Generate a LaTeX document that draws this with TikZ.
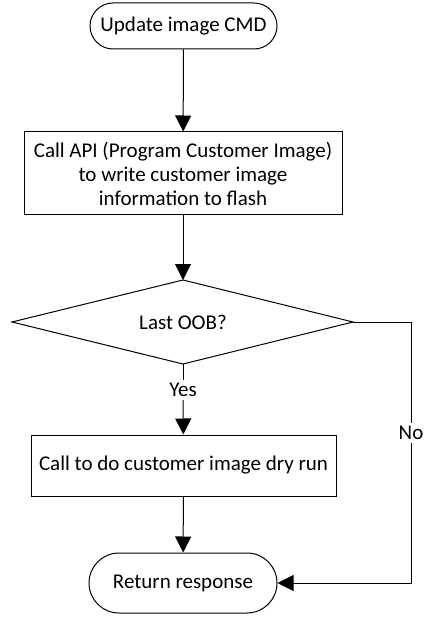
\documentclass[tikz,border=0pt]{standalone}
\usepackage{fontspec}
\setmainfont{Carlito}
\usetikzlibrary{shapes.geometric,arrows.meta}
\begin{document}
\begin{tikzpicture}[x=1pt,y=-1pt,
  every node/.style={font=\fontsize{21}{24}\selectfont, inner sep=0pt},
  term/.style={draw, rectangle, rounded corners=23pt, line width=1pt, align=center},
  proc/.style={draw, rectangle, line width=1pt, align=center},
  dec/.style={draw, line width=1pt},
  conn/.style={line width=1pt, -{Triangle[length=16pt,width=16pt]}},
  line/.style={line width=1pt}]
\useasboundingbox (0,0) rectangle (426,617);
\node[term, minimum width=187pt, minimum height=46pt] (start) at (183.5,26) {Update image CMD};
\node[proc, minimum width=318pt, minimum height=83pt] (api) at (183,173.5) {Call API (Program Customer Image)\\to write customer image\\information to flash};
\draw[dec] (12,322) -- (183,280) -- (353,322) -- (183,364) -- cycle;
\coordinate (dtop) at (183,280);
\coordinate (dbot) at (183,364);
\coordinate (dright) at (353,322);
\node (q) at (183,322) {Last OOB?};
\node[proc, minimum width=305pt, minimum height=61pt] (dry) at (183.5,465.5) {Call to do customer image dry run};
\node[term, rounded corners=30pt, minimum width=188pt, minimum height=60pt] (ret) at (183,583) {Return response};
\draw[conn] (start) -- (api);
\draw[conn] (api.south) -- (dtop);
\node[fill=white, inner xsep=1pt, inner ysep=3pt] (yes) at (183,390) {Yes};
\draw[line] (dbot) -- (yes);
\draw[conn] (yes) -- (dry);
\draw[conn] (dry) -- (ret);
\coordinate (c1) at (411,322);
\coordinate (c2) at (411,583);
\node[fill=white, inner xsep=1pt, inner ysep=3pt] (no) at (411,433) {No};
\draw[line] (dright) -- (c1) -- (no);
\draw[conn] (no) -- (c2) -- (ret.east);
\end{tikzpicture}
\end{document}
